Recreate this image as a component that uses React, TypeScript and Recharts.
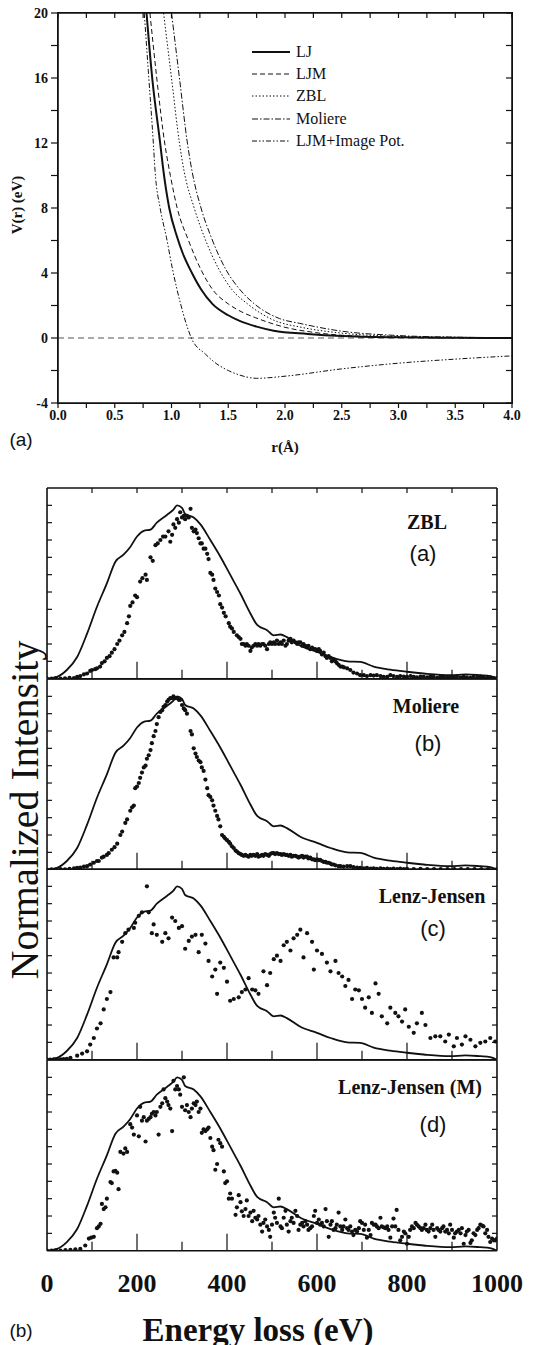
import React from 'react';
import { ComposedChart, Line, Scatter, XAxis, YAxis, ReferenceLine } from 'recharts';

const SERIF = '"Liberation Serif", "Times New Roman", serif';
const SANS = '"Liberation Sans", Arial, sans-serif';
const INK = '#111';

// ---- (a) interatomic potentials: [r (Å), V (eV)] ----
const R_TICKS = [0, 0.25, 0.5, 0.75, 1, 1.25, 1.5, 1.75, 2, 2.25, 2.5, 2.75, 3, 3.25, 3.5, 3.75, 4];
const V_TICKS = [-4, -2, 0, 2, 4, 6, 8, 10, 12, 14, 16, 18, 20];

const LJ = [[0.78, 20], [0.83, 16], [0.9, 12], [0.925, 10.5], [0.98, 8], [1.05, 6.2], [1.1, 5.2], [1.18, 4], [1.26, 3.0], [1.36, 2.1], [1.5, 1.4], [1.6, 1.05], [1.75, 0.7], [1.9, 0.45], [2.2, 0.25], [2.5, 0.12], [3.0, 0.04], [3.5, 0.01], [4.0, 0]];
const LJM = [[0.81, 20], [0.87, 16], [0.94, 12], [0.99, 10], [1.05, 8], [1.15, 6], [1.26, 4.2], [1.36, 3.0], [1.5, 2.1], [1.62, 1.6], [1.74, 1.25], [2.0, 0.66], [2.25, 0.35], [2.5, 0.17], [3.0, 0.05], [3.5, 0.015], [4.0, 0]];
const ZBL = [[0.93, 20], [1.0, 16], [1.07, 12], [1.11, 10.3], [1.2, 8], [1.29, 6.2], [1.42, 4.2], [1.53, 3.0], [1.67, 2.1], [1.9, 1.1], [2.15, 0.65], [2.5, 0.3], [3.0, 0.1], [3.5, 0.04], [4.0, 0.01]];
const MOLIERE = [[1.0, 20], [1.07, 16], [1.14, 12], [1.18, 10.3], [1.26, 8], [1.35, 6.2], [1.48, 4.2], [1.6, 3.0], [1.73, 2.1], [1.95, 1.2], [2.13, 0.9], [2.5, 0.42], [3.0, 0.15], [3.5, 0.05], [4.0, 0.015]];
const LJM_IMAGE = [[0.76, 20], [0.8, 16], [0.84, 12], [0.855, 10.3], [0.9, 8], [0.955, 6.2], [1.01, 4.2], [1.08, 2.1], [1.175, 0], [1.3, -1.0], [1.4, -1.6], [1.5, -2.0], [1.6, -2.28], [1.75, -2.48], [2.0, -2.35], [2.5, -1.9], [3.0, -1.55], [3.5, -1.3], [4.0, -1.1]];

const POTENTIALS = [
  { name: 'LJ', data: LJ, dash: undefined, width: 2 },
  { name: 'LJM', data: LJM, dash: '5 3', width: 1 },
  { name: 'ZBL', data: ZBL, dash: '1.5 2', width: 1 },
  { name: 'Moliere', data: MOLIERE, dash: '6 2 1.5 2', width: 1 },
  { name: 'LJM+Image Pot.', data: LJM_IMAGE, dash: '5 2 1.5 2 1.5 2', width: 1 },
];

// ---- (b) energy loss spectra: [E (eV), normalized intensity] ----
const E_LABELS = [0, 200, 400, 600, 800, 1000];
const E_TICKS = [100, 200, 300, 400, 500, 600, 700, 800, 900];
const I_TICKS = [0.1, 0.2, 0.3, 0.4, 0.5, 0.6, 0.7, 0.8, 0.9, 1.0];

const MEASURED = [[0, 0], [22, 0.01], [44, 0.05], [67, 0.125], [89, 0.26], [111, 0.415], [133, 0.55], [152, 0.675], [170, 0.715], [185, 0.76], [200, 0.82], [215, 0.853], [230, 0.86], [244, 0.9], [267, 0.946], [281, 0.975], [289, 1.0], [300, 0.985], [307, 0.95], [326, 0.93], [341, 0.89], [363, 0.8], [385, 0.705], [407, 0.6], [430, 0.49], [452, 0.376], [467, 0.31], [489, 0.28], [504, 0.25], [519, 0.255], [533, 0.24], [563, 0.19], [600, 0.155], [630, 0.125], [667, 0.1], [696, 0.097], [726, 0.07], [763, 0.052], [800, 0.04], [837, 0.03], [896, 0.02], [930, 0.025], [963, 0.02], [985, 0.015], [1000, 0]];

const SIM_ZBL = [[0, 0], [10, 0], [20, 0.003], [30, 0], [40, 0.002], [50, 0.005], [60, 0.004], [67, 0.01], [74, 0.015], [82, 0.025], [89, 0.03], [96, 0.045], [100, 0.05], [107, 0.055], [111, 0.06], [118, 0.07], [122, 0.09], [128, 0.1], [133, 0.12], [139, 0.13], [144, 0.15], [150, 0.17], [156, 0.2], [161, 0.22], [167, 0.25], [172, 0.27], [178, 0.32], [182, 0.36], [185, 0.42], [190, 0.44], [196, 0.48], [200, 0.47], [207, 0.56], [212, 0.58], [219, 0.6], [222, 0.57], [230, 0.7], [235, 0.68], [241, 0.77], [246, 0.78], [252, 0.8], [258, 0.82], [263, 0.82], [270, 0.85], [274, 0.79], [278, 0.83], [281, 0.89], [285, 0.87], [289, 0.92], [293, 0.9], [296, 0.96], [300, 0.93], [304, 0.94], [307, 0.92], [311, 0.94], [315, 0.93], [319, 0.98], [322, 0.87], [326, 0.85], [330, 0.86], [333, 0.84], [337, 0.81], [341, 0.78], [344, 0.78], [348, 0.75], [352, 0.75], [356, 0.72], [359, 0.69], [363, 0.61], [367, 0.6], [370, 0.57], [374, 0.52], [378, 0.5], [382, 0.48], [385, 0.43], [389, 0.41], [393, 0.38], [397, 0.36], [404, 0.32], [407, 0.3], [411, 0.29], [415, 0.27], [422, 0.25], [426, 0.24], [430, 0.23], [433, 0.2], [437, 0.2], [441, 0.19], [444, 0.2], [448, 0.19], [452, 0.16], [455, 0.18], [459, 0.19], [463, 0.2], [467, 0.19], [470, 0.2], [474, 0.19], [478, 0.2], [481, 0.2], [485, 0.19], [489, 0.17], [493, 0.2], [496, 0.21], [500, 0.2], [504, 0.21], [507, 0.2], [511, 0.22], [515, 0.2], [519, 0.21], [522, 0.2], [526, 0.22], [530, 0.19], [533, 0.2], [537, 0.22], [541, 0.23], [544, 0.21], [548, 0.22], [552, 0.21], [556, 0.2], [559, 0.21], [563, 0.21], [567, 0.19], [570, 0.2], [574, 0.19], [578, 0.18], [581, 0.19], [585, 0.17], [589, 0.18], [593, 0.17], [596, 0.17], [600, 0.16], [604, 0.17], [607, 0.16], [611, 0.14], [615, 0.15], [619, 0.13], [622, 0.12], [626, 0.13], [630, 0.12], [633, 0.1], [637, 0.11], [641, 0.1], [644, 0.09], [648, 0.08], [652, 0.07], [656, 0.07], [660, 0.065], [667, 0.06], [674, 0.05], [681, 0.035], [689, 0.03], [696, 0.02], [704, 0.02], [711, 0.015], [719, 0.02], [726, 0.018], [733, 0.02], [741, 0.015], [748, 0.01], [756, 0.01], [763, 0.02], [770, 0.015], [778, 0.01], [785, 0.015], [793, 0.012], [800, 0.01], [808, 0.015], [815, 0.01], [822, 0.008], [830, 0.012], [837, 0.01], [845, 0.008], [852, 0.012], [859, 0.01], [867, 0.005], [874, 0.01], [881, 0.012], [889, 0.006], [896, 0.01], [904, 0.008], [911, 0.012], [919, 0.006], [926, 0.01], [933, 0.008], [941, 0.005], [948, 0.01], [956, 0.006], [963, 0.012], [970, 0.008], [978, 0.005], [985, 0.008], [993, 0.004], [1000, 0.003]];

const SIM_MOLIERE = [[0, 0], [10, 0.002], [20, 0], [30, 0.003], [40, 0.002], [50, 0.005], [60, 0.008], [67, 0.01], [74, 0.012], [82, 0.018], [89, 0.02], [96, 0.03], [104, 0.04], [111, 0.05], [115, 0.05], [122, 0.07], [126, 0.075], [133, 0.085], [137, 0.095], [144, 0.115], [150, 0.13], [156, 0.15], [163, 0.2], [167, 0.22], [174, 0.27], [178, 0.29], [185, 0.34], [189, 0.36], [193, 0.37], [196, 0.47], [200, 0.48], [204, 0.5], [207, 0.53], [211, 0.56], [215, 0.59], [219, 0.6], [222, 0.64], [226, 0.66], [230, 0.69], [233, 0.73], [237, 0.77], [241, 0.8], [244, 0.84], [248, 0.88], [252, 0.91], [256, 0.92], [259, 0.94], [263, 0.95], [267, 0.97], [270, 0.98], [274, 0.99], [278, 0.99], [281, 1.0], [285, 0.99], [289, 0.99], [293, 0.98], [296, 0.98], [300, 0.95], [304, 0.93], [307, 0.92], [311, 0.9], [319, 0.8], [322, 0.78], [326, 0.7], [330, 0.67], [333, 0.65], [337, 0.63], [341, 0.62], [344, 0.59], [348, 0.57], [352, 0.52], [356, 0.47], [359, 0.43], [363, 0.42], [367, 0.4], [370, 0.37], [374, 0.34], [378, 0.31], [381, 0.29], [385, 0.25], [389, 0.2], [393, 0.19], [396, 0.18], [400, 0.17], [404, 0.16], [407, 0.15], [411, 0.135], [415, 0.125], [419, 0.11], [422, 0.105], [426, 0.095], [430, 0.09], [433, 0.085], [437, 0.08], [441, 0.085], [444, 0.08], [448, 0.075], [452, 0.085], [455, 0.08], [459, 0.085], [463, 0.08], [467, 0.09], [470, 0.075], [474, 0.08], [478, 0.085], [481, 0.08], [485, 0.09], [489, 0.085], [493, 0.08], [496, 0.09], [500, 0.095], [504, 0.095], [507, 0.09], [511, 0.095], [515, 0.09], [519, 0.09], [522, 0.085], [526, 0.09], [530, 0.085], [533, 0.085], [537, 0.08], [541, 0.085], [544, 0.075], [548, 0.08], [552, 0.08], [556, 0.075], [559, 0.07], [563, 0.075], [567, 0.08], [570, 0.07], [574, 0.075], [578, 0.075], [581, 0.065], [585, 0.07], [589, 0.06], [593, 0.06], [596, 0.055], [600, 0.06], [604, 0.055], [607, 0.057], [611, 0.05], [615, 0.045], [619, 0.045], [622, 0.04], [626, 0.04], [630, 0.035], [633, 0.03], [637, 0.03], [641, 0.025], [648, 0.02], [652, 0.02], [659, 0.018], [667, 0.02], [674, 0.02], [681, 0.015], [689, 0.012], [696, 0.01], [704, 0.008], [711, 0.01], [719, 0.006], [726, 0.008], [733, 0.005], [741, 0.008], [748, 0.005], [756, 0.006], [763, 0.004], [770, 0.006], [778, 0.004], [785, 0.006], [793, 0.004], [800, 0.005], [815, 0.004], [830, 0.005], [845, 0.003], [860, 0.004], [875, 0.003], [890, 0.004], [905, 0.003], [920, 0.004], [935, 0.003], [950, 0.004], [965, 0.003], [980, 0.004], [1000, 0.003]];

const SIM_LENZ = [[0, 0], [7, 0], [15, 0.002], [22, 0.003], [30, 0.002], [37, 0.004], [44, 0.005], [52, 0.01], [67, 0.023], [78, 0.035], [89, 0.048], [96, 0.087], [104, 0.125], [111, 0.18], [119, 0.21], [126, 0.29], [133, 0.35], [141, 0.39], [148, 0.59], [156, 0.59], [159, 0.62], [167, 0.68], [174, 0.73], [181, 0.75], [193, 0.76], [196, 0.79], [204, 0.83], [211, 0.85], [222, 1.0], [226, 0.85], [233, 0.73], [237, 0.78], [244, 0.72], [256, 0.68], [263, 0.73], [270, 0.7], [278, 0.82], [285, 0.8], [293, 0.76], [300, 0.77], [307, 0.64], [315, 0.685], [322, 0.71], [330, 0.72], [337, 0.62], [344, 0.72], [352, 0.67], [359, 0.57], [367, 0.48], [374, 0.52], [378, 0.38], [385, 0.56], [393, 0.53], [400, 0.45], [407, 0.34], [415, 0.35], [426, 0.36], [433, 0.39], [441, 0.405], [448, 0.47], [456, 0.405], [463, 0.4], [470, 0.38], [481, 0.51], [489, 0.43], [496, 0.5], [504, 0.58], [511, 0.6], [519, 0.57], [526, 0.66], [533, 0.68], [541, 0.63], [548, 0.7], [556, 0.72], [563, 0.75], [570, 0.59], [578, 0.73], [589, 0.68], [593, 0.52], [600, 0.63], [611, 0.61], [622, 0.56], [630, 0.51], [641, 0.57], [648, 0.5], [656, 0.48], [663, 0.425], [670, 0.46], [678, 0.35], [685, 0.405], [693, 0.4], [700, 0.35], [707, 0.3], [715, 0.36], [722, 0.27], [730, 0.44], [737, 0.38], [744, 0.25], [756, 0.21], [763, 0.3], [774, 0.27], [781, 0.25], [789, 0.22], [796, 0.29], [804, 0.19], [815, 0.155], [822, 0.21], [833, 0.27], [841, 0.2], [852, 0.125], [863, 0.135], [874, 0.135], [885, 0.105], [893, 0.145], [904, 0.077], [911, 0.125], [922, 0.087], [930, 0.135], [941, 0.115], [952, 0.077], [963, 0.097], [974, 0.105], [985, 0.125], [996, 0.105]];

const SIM_LENZ_M = [[0, 0], [10, 0], [20, 0.002], [30, 0], [41, 0.004], [52, 0.005], [63, 0.008], [74, 0.01], [85, 0.03], [93, 0.07], [98, 0.075], [104, 0.08], [111, 0.13], [115, 0.14], [119, 0.155], [122, 0.27], [126, 0.24], [130, 0.25], [133, 0.3], [141, 0.396], [144, 0.39], [148, 0.457], [152, 0.46], [156, 0.45], [159, 0.355], [163, 0.57], [170, 0.56], [174, 0.59], [178, 0.57], [185, 0.73], [189, 0.71], [193, 0.67], [200, 0.78], [204, 0.66], [207, 0.83], [211, 0.75], [215, 0.77], [219, 0.63], [222, 0.75], [226, 0.76], [230, 0.77], [233, 0.79], [237, 0.8], [241, 0.78], [244, 0.8], [248, 0.67], [252, 0.83], [256, 0.85], [259, 0.93], [263, 0.88], [267, 0.86], [270, 0.84], [274, 0.82], [278, 0.69], [281, 0.98], [285, 0.93], [289, 0.95], [293, 0.93], [296, 0.9], [300, 0.83], [304, 1.0], [307, 0.81], [311, 0.84], [315, 0.8], [319, 0.77], [322, 0.82], [326, 0.85], [330, 0.84], [333, 0.86], [337, 0.8], [341, 0.82], [344, 0.68], [348, 0.7], [352, 0.69], [356, 0.7], [359, 0.71], [363, 0.65], [367, 0.6], [370, 0.58], [374, 0.467], [378, 0.5], [381, 0.64], [385, 0.62], [389, 0.6], [393, 0.457], [396, 0.39], [400, 0.4], [404, 0.3], [407, 0.33], [411, 0.3], [419, 0.207], [422, 0.25], [426, 0.32], [430, 0.28], [433, 0.227], [437, 0.2], [441, 0.24], [444, 0.29], [448, 0.2], [452, 0.22], [456, 0.17], [459, 0.23], [463, 0.19], [467, 0.18], [470, 0.2], [474, 0.15], [478, 0.11], [481, 0.16], [485, 0.18], [489, 0.14], [493, 0.12], [496, 0.08], [500, 0.15], [504, 0.22], [507, 0.19], [511, 0.16], [515, 0.3], [519, 0.14], [522, 0.13], [526, 0.19], [530, 0.23], [533, 0.15], [537, 0.11], [541, 0.17], [544, 0.19], [548, 0.16], [552, 0.23], [556, 0.2], [559, 0.12], [563, 0.15], [567, 0.16], [570, 0.14], [574, 0.17], [578, 0.15], [581, 0.12], [585, 0.13], [589, 0.14], [593, 0.2], [596, 0.23], [600, 0.16], [604, 0.18], [607, 0.15], [611, 0.16], [615, 0.14], [619, 0.24], [622, 0.17], [626, 0.08], [630, 0.15], [633, 0.17], [637, 0.12], [641, 0.13], [644, 0.15], [648, 0.22], [652, 0.14], [656, 0.12], [659, 0.14], [663, 0.18], [667, 0.13], [670, 0.12], [674, 0.14], [678, 0.11], [681, 0.09], [685, 0.12], [689, 0.11], [693, 0.13], [696, 0.17], [700, 0.16], [704, 0.12], [707, 0.15], [711, 0.075], [715, 0.12], [719, 0.09], [722, 0.16], [726, 0.15], [730, 0.15], [733, 0.14], [737, 0.13], [741, 0.19], [744, 0.14], [748, 0.135], [752, 0.13], [756, 0.14], [759, 0.12], [763, 0.075], [767, 0.14], [770, 0.185], [774, 0.14], [777, 0.235], [781, 0.12], [785, 0.06], [789, 0.08], [793, 0.11], [796, 0.1], [800, 0.04], [804, 0.08], [807, 0.12], [811, 0.14], [815, 0.13], [819, 0.16], [822, 0.15], [826, 0.14], [830, 0.13], [833, 0.12], [837, 0.13], [841, 0.15], [844, 0.12], [848, 0.11], [852, 0.13], [856, 0.15], [859, 0.12], [863, 0.08], [867, 0.13], [870, 0.12], [874, 0.11], [878, 0.13], [881, 0.14], [885, 0.11], [889, 0.12], [893, 0.1], [896, 0.15], [900, 0.12], [904, 0.075], [907, 0.1], [911, 0.11], [915, 0.12], [919, 0.1], [922, 0.13], [926, 0.04], [930, 0.09], [933, 0.11], [937, 0.12], [941, 0.045], [944, 0.06], [948, 0.1], [952, 0.09], [956, 0.12], [959, 0.13], [963, 0.15], [967, 0.145], [970, 0.14], [974, 0.1], [978, 0.12], [981, 0.08], [985, 0.05], [989, 0.07], [993, 0.06], [996, 0.06], [1000, 0.07]];

const toRV = (pts: number[][]) => pts.map(([r, v]) => ({ r, v }));
const toEV = (pts: number[][]) => pts.map(([e, v]) => ({ e, v }));

const FRAME = { stroke: INK, strokeWidth: 1.6 };
const TICK = { stroke: INK, strokeWidth: 1.2 };

// tick renderers: with tickSize/tickMargin 0, (p.x, p.y) sits on the axis line
const rTick = (p: any) => {
  const v = p.payload.value;
  const labelled = Math.abs(v * 2 - Math.round(v * 2)) < 1e-6;
  return (
    <g>
      <line x1={p.x} x2={p.x} y1={p.y} y2={p.y + 5} {...TICK} />
      {labelled && (
        <text x={p.x} y={p.y + 17} textAnchor="middle" fontFamily={SERIF} fontWeight="bold" fontSize={14} fill={INK}>
          {v.toFixed(1)}
        </text>
      )}
    </g>
  );
};
const vTick = (p: any) => {
  const v = p.payload.value;
  return (
    <g>
      <line x1={p.x} x2={p.x - 7} y1={p.y} y2={p.y} {...TICK} />
      {v % 4 === 0 && (
        <text x={p.x - 10} y={p.y + 4.5} textAnchor="end" fontFamily={SERIF} fontWeight="bold" fontSize={14} fill={INK}>
          {v}
        </text>
      )}
    </g>
  );
};
const downTick = (len: number) => (p: any) => <line x1={p.x} x2={p.x} y1={p.y} y2={p.y + len} {...TICK} />;
const leftTick = (len: number) => (p: any) => <line x1={p.x} x2={p.x - len} y1={p.y} y2={p.y} {...TICK} />;
const rightTick = (len: number) => (p: any) => <line x1={p.x} x2={p.x + len} y1={p.y} y2={p.y} {...TICK} />;
const upTick = (p: any) => {
  const len = p.payload.value % 200 === 0 ? 17 : 9;
  return <line x1={p.x} x2={p.x} y1={p.y} y2={p.y - len} {...TICK} />;
};
const eTick = (p: any) => (
  <text x={p.x} y={p.y + 41} textAnchor="middle" fontFamily={SERIF} fontWeight="bold" fontSize={26} fill={INK}>
    {p.payload.value}
  </text>
);

const Dot = (p: any) => <circle cx={p.cx} cy={p.cy} r={2.1} fill={INK} />;

const AXIS_COMMON = { tickSize: 0, tickMargin: 0, axisLine: false, tickLine: false, allowDataOverflow: true, interval: 0 as const };

// plot rectangle of the potential chart
const POT_LEFT = 58;
const POT_TOP = 13;
const POT_W = 454;
const POT_H = 390;

function PotentialChart() {
  return (
    <div style={{ position: 'absolute', left: 0, top: 0 }}>
      <ComposedChart id="potential-chart" width={555} height={460} margin={{ top: POT_TOP, right: 555 - POT_LEFT - POT_W, bottom: 0, left: 0 }}>
        <XAxis xAxisId="pb" type="number" dataKey="r" domain={[0, 4]} ticks={R_TICKS} height={460 - POT_TOP - POT_H} tick={rTick} {...AXIS_COMMON} />
        <XAxis xAxisId="pt" orientation="top" type="number" dataKey="r" domain={[0, 4]} ticks={R_TICKS} mirror height={0.01} tick={downTick(5)} {...AXIS_COMMON} />
        <YAxis yAxisId="pl" type="number" dataKey="v" domain={[-4, 20]} ticks={V_TICKS} width={POT_LEFT} tick={vTick} {...AXIS_COMMON} />
        <YAxis yAxisId="pr" orientation="right" type="number" dataKey="v" domain={[-4, 20]} ticks={V_TICKS} mirror width={0.01} tick={leftTick(6)} {...AXIS_COMMON} />
        <ReferenceLine xAxisId="pb" yAxisId="pl" y={0} stroke="#555" strokeDasharray="6 4" strokeWidth={1} />
        {POTENTIALS.map((p) => (
          <Line key={p.name} xAxisId="pb" yAxisId="pl" data={toRV(p.data)} dataKey="v" type="monotone" stroke={INK} strokeWidth={p.width} strokeDasharray={p.dash} dot={false} isAnimationActive={false} />
        ))}
        <ReferenceLine xAxisId="pb" yAxisId="pl" x={0} {...FRAME} />
        <ReferenceLine xAxisId="pb" yAxisId="pl" x={4} {...FRAME} />
        <ReferenceLine xAxisId="pb" yAxisId="pl" y={-4} {...FRAME} />
        <ReferenceLine xAxisId="pb" yAxisId="pl" y={20} {...FRAME} />
      </ComposedChart>
      <div style={{ position: 'absolute', left: POT_LEFT - 0.8, top: POT_TOP - 0.8, width: POT_W + 1.6, height: POT_H + 1.6, boxSizing: 'border-box', border: `1.6px solid ${INK}`, pointerEvents: 'none' }} />
    </div>
  );
}

function PotentialLegend() {
  return (
    <div style={{ position: 'absolute', left: 252, top: 41 }}>
      {POTENTIALS.map((p) => (
        <div key={p.name} style={{ display: 'flex', alignItems: 'center', height: 22.2 }}>
          <svg width={38} height={6} style={{ display: 'block' }}>
            <line x1={0} x2={38} y1={3} y2={3} stroke={INK} strokeWidth={p.width} strokeDasharray={p.dash} />
          </svg>
          <span style={{ marginLeft: 6, fontFamily: SERIF, fontSize: 16, lineHeight: 1, whiteSpace: 'nowrap' }}>{p.name}</span>
        </div>
      ))}
    </div>
  );
}

const PANEL_TOP = 488;
const PANEL_H = 190.7;

function Panel({ dots, index, last }: { dots: number[][]; index: number; last: boolean }) {
  const top = PANEL_TOP + index * PANEL_H;
  const h = PANEL_H + 1 + (last ? 50 : 1);
  return (
    <div style={{ position: 'absolute', left: 0, top: top - 1 }}>
      <ComposedChart id={`spectrum-${index}`} width={555} height={h} margin={{ top: 1, right: 58, bottom: last ? 0 : 1, left: 47 }}>
        <XAxis xAxisId="main" type="number" dataKey="e" domain={[0, 1000]} ticks={E_TICKS} mirror height={0.01} tick={upTick} {...AXIS_COMMON} />
        {index === 0 && (
          <XAxis xAxisId="top" orientation="top" type="number" dataKey="e" domain={[0, 1000]} ticks={E_TICKS} mirror height={0.01} tick={downTick(5)} {...AXIS_COMMON} />
        )}
        {last && (
          <XAxis xAxisId="labels" type="number" dataKey="e" domain={[0, 1000]} ticks={E_LABELS} height={50} tick={eTick} {...AXIS_COMMON} />
        )}
        <YAxis yAxisId="l" type="number" dataKey="v" domain={[0, 1.1]} ticks={I_TICKS} mirror width={0.01} tick={rightTick(5)} {...AXIS_COMMON} />
        <YAxis yAxisId="r" orientation="right" type="number" dataKey="v" domain={[0, 1.1]} ticks={I_TICKS} mirror width={0.01} tick={leftTick(5)} {...AXIS_COMMON} />
        <Line xAxisId="main" yAxisId="l" data={toEV(MEASURED)} dataKey="v" type="monotone" stroke={INK} strokeWidth={1.8} dot={false} isAnimationActive={false} />
        <Scatter xAxisId="main" yAxisId="l" data={toEV(dots)} dataKey="v" shape={Dot} isAnimationActive={false} />
        <ReferenceLine xAxisId="main" yAxisId="l" x={0} {...FRAME} />
        <ReferenceLine xAxisId="main" yAxisId="l" x={1000} {...FRAME} />
        <ReferenceLine xAxisId="main" yAxisId="l" y={0} {...FRAME} />
        <ReferenceLine xAxisId="main" yAxisId="l" y={1.1} {...FRAME} />
      </ComposedChart>
    </div>
  );
}

const SPECTRA = [SIM_ZBL, SIM_MOLIERE, SIM_LENZ, SIM_LENZ_M];
const SPECTRA_TITLES = ['ZBL', 'Moliere', 'Lenz-Jensen', 'Lenz-Jensen (M)'];
const SPECTRA_TAGS = ['(a)', '(b)', '(c)', '(d)'];

export default function App() {
  const titlePos = [
    { x: 427, y: 522, tx: 423, ty: 554 },
    { x: 426, y: 706, tx: 428, ty: 744 },
    { x: 432, y: 896, tx: 433, ty: 929 },
    { x: 410, y: 1087, tx: 433, ty: 1125 },
  ];
  const center = { position: 'absolute' as const, transform: 'translate(-50%,-50%)', whiteSpace: 'nowrap' as const, lineHeight: 1 };
  return (
    <div style={{ position: 'absolute', left: 0, top: 0, width: 555, height: 1345, background: '#fff', color: INK }}>
      <PotentialChart />
      <PotentialLegend />
      <div style={{ ...center, left: 17, top: 205, transform: 'translate(-50%,-50%) rotate(-90deg)', fontFamily: SERIF, fontWeight: 'bold', fontSize: 15 }}>V(r) (eV)</div>
      <div style={{ ...center, left: 285, top: 447, fontFamily: SERIF, fontWeight: 'bold', fontSize: 15 }}>r(Å)</div>
      <div style={{ ...center, left: 21, top: 439, fontFamily: SANS, fontSize: 19 }}>(a)</div>
      {SPECTRA.map((d, i) => (
        <Panel key={i} dots={d} index={i} last={i === SPECTRA.length - 1} />
      ))}
      {titlePos.map((l, i) => (
        <React.Fragment key={i}>
          <div style={{ ...center, left: l.x, top: l.y, fontFamily: SERIF, fontWeight: 'bold', fontSize: 20 }}>{SPECTRA_TITLES[i]}</div>
          <div style={{ ...center, left: l.tx, top: l.ty, fontFamily: SANS, fontSize: 22 }}>{SPECTRA_TAGS[i]}</div>
        </React.Fragment>
      ))}
      <div style={{ ...center, left: 25, top: 810, transform: 'translate(-50%,-50%) rotate(-90deg)', fontFamily: SERIF, fontSize: 40 }}>Normalized Intensity</div>
      <div style={{ ...center, left: 258, top: 1330, fontFamily: SERIF, fontWeight: 'bold', fontSize: 33 }}>Energy loss (eV)</div>
      <div style={{ ...center, left: 21, top: 1330, fontFamily: SANS, fontSize: 19 }}>(b)</div>
    </div>
  );
}
